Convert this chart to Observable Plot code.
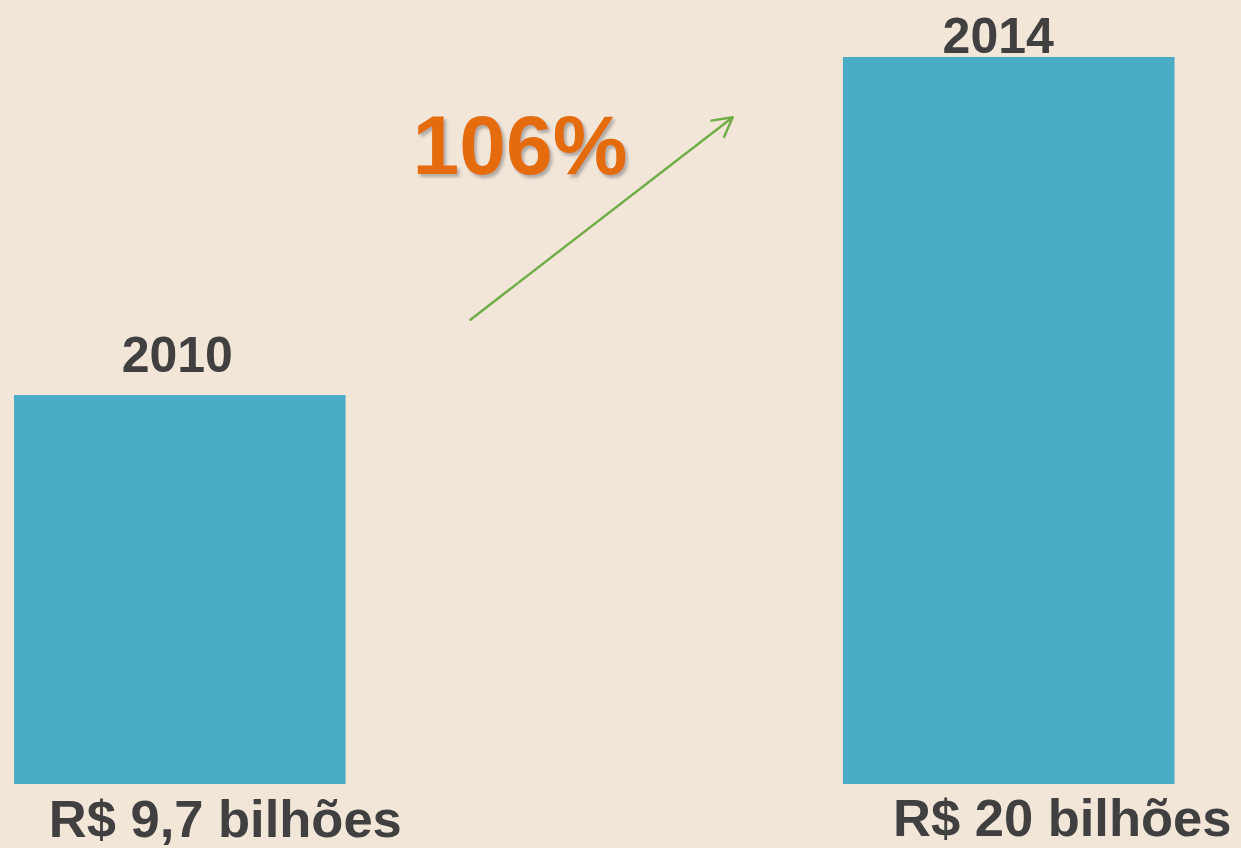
<!DOCTYPE html>
<html>
<head>
<meta charset="utf-8">
<script src="https://cdn.jsdelivr.net/npm/d3@7"></script>
<script src="https://cdn.jsdelivr.net/npm/@observablehq/plot@0.6"></script>
<style>
  html, body { margin: 0; padding: 0; background: #F2E6D9; overflow: hidden; }
  #chart svg { display: block; background: #F2E6D9; }
</style>
</head>
<body>
<div id="chart"></div>
<script>
// ---- data ----
const years = [2010, 2014];
const values = [9.7, 20];
const valueLabels = ["R$ 9,7 bilhões", "R$ 20 bilhões"];
const growthLabel = "106%";

const data = years.map((y, i) => ({year: y, value: values[i], label: valueLabels[i], yearLabel: String(y)}));

// ---- layout / style ----
const yBase = -2.155;           // bottom of the value axis
const halfBar = 0.8;            // half bar width in years
const font = "'Liberation Sans', Arial, sans-serif";
const textColor = "#404040";
const barColor = "#4BACC6";
const topDy = [-23, -5];
const topDx = [-3, -11];
const botDy = [52.5, 51.5];
const botDx = [45, 53];

const marks = [
  Plot.rect(data, {
    x1: d => d.year - halfBar, x2: d => d.year + halfBar,
    y1: yBase, y2: "value", fill: barColor, inset: 0
  })
];
data.forEach((d, i) => {
  marks.push(Plot.text([d], {
    x: "year", y: "value", text: "yearLabel",
    dx: topDx[i], dy: topDy[i], lineAnchor: "bottom",
    fontSize: 50, fontWeight: "bold", fontFamily: font, fill: textColor
  }));
  marks.push(Plot.text([d], {
    x: "year", y: yBase, text: "label",
    dx: botDx[i], dy: botDy[i], lineAnchor: "bottom",
    fontSize: 52.5, fontWeight: "bold", fontFamily: font, fill: textColor
  }));
});
marks.push(Plot.arrow([{x1: 2011.40, y1: 12.01, x2: 2012.666, y2: 18.18}], {
  x1: "x1", y1: "y1", x2: "x2", y2: "y2",
  stroke: "#70AD47", strokeWidth: 2.4, headLength: 13.5, headAngle: 57
}));
marks.push(Plot.text([growthLabel], {
  x: 2011.639, y: 16.46, text: d => d, lineAnchor: "bottom", textAnchor: "middle",
  fontSize: 84, fontWeight: "bold", fontFamily: font, fill: "#E46C0A"
}));

const chart = Plot.plot({
  width: 1241,
  height: 848,
  marginTop: 57,
  marginBottom: 64,
  marginLeft: 14,
  marginRight: 66.5,
  x: {domain: [2009.2, 2014.8], axis: null},
  y: {domain: [yBase, 20], axis: null},
  style: {background: "#F2E6D9"},
  marks
});
document.getElementById("chart").appendChild(chart);

// drop shadow for the growth label
const svg = d3.select(chart);
const defs = svg.insert("defs", ":first-child");
const f = defs.append("filter").attr("id", "shadow").attr("x", "-10%").attr("y", "-10%").attr("width", "130%").attr("height", "140%");
f.append("feDropShadow").attr("dx", 2.5).attr("dy", 3).attr("stdDeviation", 1.6)
  .attr("flood-color", "#7a7a7a").attr("flood-opacity", 0.55);
svg.selectAll("text").filter(function() { return this.textContent === growthLabel; })
  .attr("filter", "url(#shadow)");
</script>
</body>
</html>
